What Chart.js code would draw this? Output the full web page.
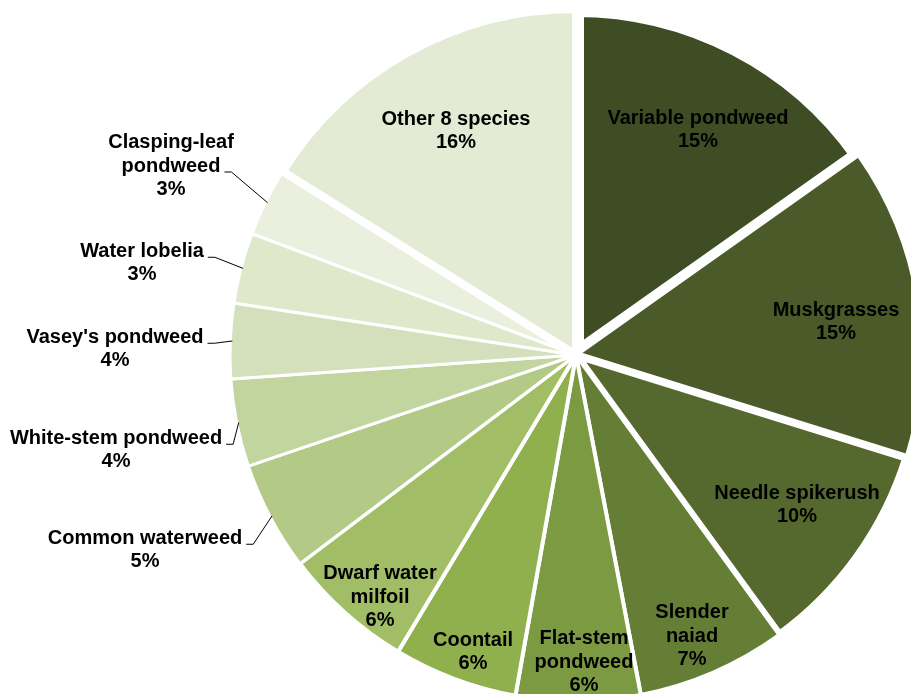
<!DOCTYPE html>
<html>
<head>
<meta charset="utf-8">
<script src="https://cdn.jsdelivr.net/npm/chart.js@4.4.1/dist/chart.umd.min.js"></script>
<style>
    html, body { margin: 0; padding: 0; background: #ffffff; }
    #wrap { width: 911px; height: 694px; overflow: hidden; position: relative; }
    #speciesChart { position: absolute; left: 0; top: 0; }
</style>
</head>
<body>
<div id="wrap">
    <canvas id="speciesChart" width="1152" height="710"></canvas>
</div>
<script>
// Share of plant occurrences by species (percent)
const species = [
    ["Variable pondweed"],
    ["Muskgrasses"],
    ["Needle spikerush"],
    ["Slender", "naiad"],
    ["Flat-stem", "pondweed"],
    ["Coontail"],
    ["Dwarf water", "milfoil"],
    ["Common waterweed"],
    ["White-stem pondweed"],
    ["Vasey's pondweed"],
    ["Water lobelia"],
    ["Clasping-leaf", "pondweed"],
    ["Other 8 species"]
];
const shares = [15.2, 14.6, 10.2, 7.0, 5.8, 5.8, 6.1, 5.1, 4.1, 3.5, 3.3, 3.2, 16.1];

const sliceColors = [
    "#3f4d24", "#4a5a28", "#55692e", "#647e36", "#7b9a42", "#8fb04c",
    "#a1be67", "#b2ca86", "#c3d59f", "#d4e0bb", "#e0e8cc", "#eaf0dd", "#e4ebd4"
];
// white separators; wider ones split the large slices apart
const gapWidths = [16, 4, 8, 4, 4, 4, 4, 3, 3, 3, 3, 3, 8];

// label block centres relative to the pie centre; outside labels get a leader line
const labelOffsets = [
    [122, -225], [260, -33], [221, 150], [116, 281], [8, 307], [-103, 297], [-196, 242],
    [-431, 195], [-460, 95], [-461, -6], [-434, -92], [-405, -189], [-120, -224]
];
const outsideLabel = [false, false, false, false, false, false, false, true, true, true, true, true, false];

const LABEL_FONT = "bold 20px 'Liberation Sans', Arial, sans-serif";
const LINE_H = 23.5;

const sliceLabels = {
    id: "sliceLabels",
    afterDatasetsDraw(chart) {
        const c = chart.ctx;
        const arcs = chart.getDatasetMeta(0).data;
        c.save();
        c.font = LABEL_FONT;
        c.fillStyle = "#000000";
        c.textAlign = "center";
        c.textBaseline = "middle";
        arcs.forEach((arc, i) => {
            const lines = species[i].concat([Math.round(shares[i]) + "%"]);
            const cx = arc.x + labelOffsets[i][0];
            const cy = arc.y + labelOffsets[i][1];
            const top = cy - (lines.length - 1) * LINE_H / 2;
            lines.forEach((t, k) => c.fillText(t, cx, top + k * LINE_H));

            if (outsideLabel[i]) {
                const lastName = lines[lines.length - 2];
                const w = c.measureText(lastName).width;
                const ly = top + (lines.length - 2) * LINE_H + 6;
                const sx = cx + w / 2 + 4;
                const mid = (arc.startAngle + arc.endAngle) / 2;
                const r = arc.outerRadius - 2;
                c.beginPath();
                c.strokeStyle = "#000000";
                c.lineWidth = 1;
                c.moveTo(sx, ly);
                c.lineTo(sx + 7, ly);
                c.lineTo(arc.x + Math.cos(mid) * r, arc.y + Math.sin(mid) * r);
                c.stroke();
            }
        });
        c.restore();
    }
};

const ctx = document.getElementById("speciesChart").getContext("2d");
new Chart(ctx, {
    type: "pie",
    data: {
        labels: species.map(s => s.join(" ")),
        datasets: [{
            data: shares,
            backgroundColor: sliceColors,
            borderColor: "#ffffff",
            borderWidth: gapWidths
        }]
    },
    options: {
        responsive: false,
        animation: false,
        radius: 346,
        layout: { padding: 0 },
        plugins: {
            legend: { display: false },
            tooltip: { enabled: false }
        }
    },
    plugins: [sliceLabels]
});
</script>
</body>
</html>
